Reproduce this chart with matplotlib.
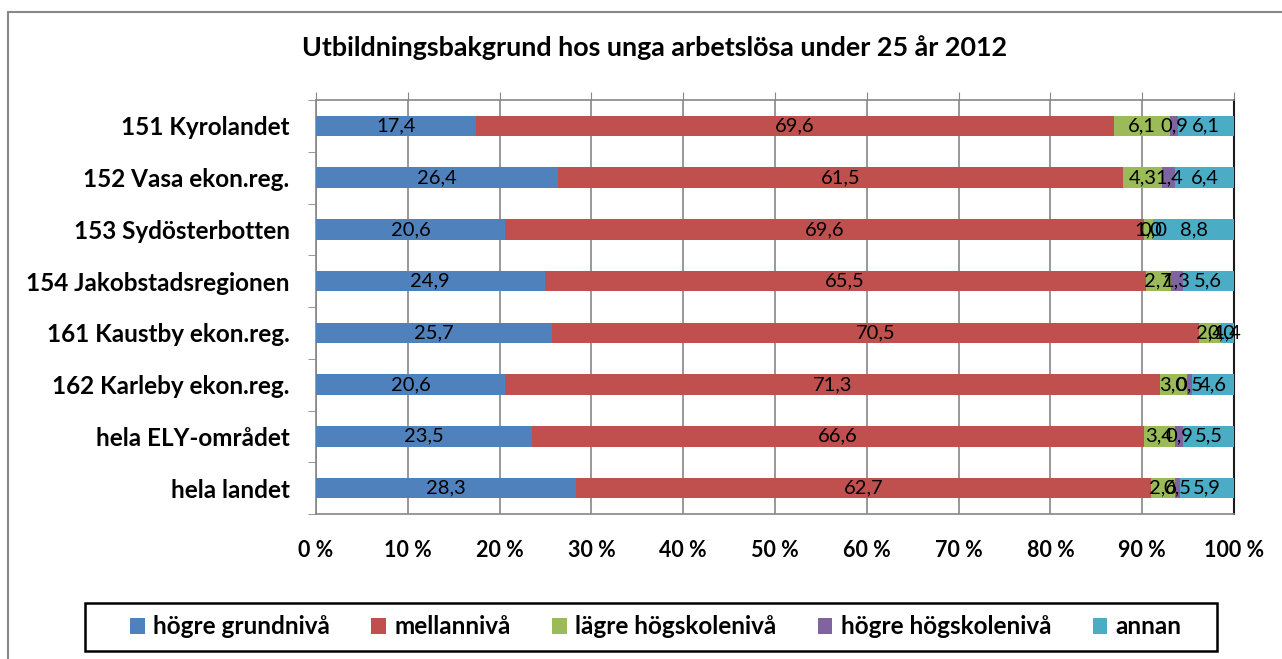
import numpy as np
import matplotlib.pyplot as plt
from matplotlib.patches import Rectangle

plt.rcParams['font.family'] = ['Lato', 'DejaVu Sans']

# data
regions = ["151 Kyrolandet", "152 Vasa ekon.reg.", "153 Sydösterbotten",
           "154 Jakobstadsregionen", "161 Kaustby ekon.reg.", "162 Karleby ekon.reg.",
           "hela ELY-området", "hela landet"]
series = ["högre grundnivå", "mellannivå", "lägre högskolenivå", "högre högskolenivå", "annan"]
hogre_grund = [17.4, 26.4, 20.6, 24.9, 25.7, 20.6, 23.5, 28.3]
mellan = [69.6, 61.5, 69.6, 65.5, 70.5, 71.3, 66.6, 62.7]
lagre_hogsk = [6.1, 4.3, 1.0, 2.7, 2.4, 3.0, 3.4, 2.6]
hogre_hogsk = [0.9, 1.4, 0.0, 1.3, 0.0, 0.5, 0.9, 0.5]
annan = [6.1, 6.4, 8.8, 5.6, 1.4, 4.6, 5.5, 5.9]
colors = ["#4F81BD", "#C0504D", "#9BBB59", "#8064A2", "#4BACC6"]

data = np.array([hogre_grund, mellan, lagre_hogsk, hogre_hogsk, annan])
totals = data.sum(axis=0)
shares = data / totals * 100

W, H = 1282, 659
fig = plt.figure(figsize=(W/100, H/100), dpi=100)
ax = fig.add_axes([316/W, 1-514/H, (1234-316)/W, (514-100)/H])

y = np.arange(len(regions))
left = np.zeros(len(regions))
for i in range(len(series)):
    ax.barh(y, shares[i], left=left, height=0.4, color=colors[i], label=series[i], zorder=3)
    for j in range(len(regions)):
        ax.text(left[j] + shares[i][j]/2, y[j], f"{data[i][j]:.1f}".replace(".", ","),
                ha="center", va="center", fontsize=14.5, color="black", zorder=4)
    left += shares[i]

ax.set_xlim(0, 100)
ax.set_ylim(len(regions) - 0.5, -0.5)
ax.set_xticks(np.arange(0, 101, 10))
ax.set_xticklabels([f"{v} %" for v in range(0, 101, 10)], fontweight="bold", fontsize=15.5)
ax.set_yticks(y)
ax.set_yticklabels(regions, fontweight="bold", fontsize=17.5)
ax.set_yticks(np.arange(-0.5, len(regions)), minor=True)
ax.tick_params(axis="y", which="major", length=0, pad=19)
ax.tick_params(axis="y", which="minor", length=6, color="#868686", direction="out")
ax.tick_params(axis="x", top=True, bottom=False, labeltop=False, labelbottom=True,
               length=6, color="#868686", pad=13)
ax.grid(axis="x", color="#868686", linewidth=1.2, zorder=0)
for s in ["left", "top", "bottom"]:
    ax.spines[s].set_color("#868686")
    ax.spines[s].set_linewidth(1.2)
ax.spines["right"].set_color("#1a1a1a")
ax.spines["right"].set_linewidth(1.5)

fig.text(655/W, 1-48/H, "Utbildningsbakgrund hos unga arbetslösa under 25 år 2012",
         ha="center", va="center", fontsize=19.4, fontweight="bold")

fig.legend(loc="center", bbox_to_anchor=(656/W, 1-627/H), ncol=5, frameon=False,
           prop={"weight": "bold", "size": 17.5}, handlelength=0.6, handleheight=0.6,
           columnspacing=1.7, handletextpad=0.35)

fig.patches.append(Rectangle((85/W, 1-651/H), (1217-85)/W, 48/H, transform=fig.transFigure,
                             fill=False, edgecolor="black", linewidth=1.8))
fig.patches.append(Rectangle((8/W, -0.1), 1.1, 1-12/H + 0.1, transform=fig.transFigure,
                             fill=False, edgecolor="#888888", linewidth=1.5))

fig.savefig("out.png", dpi=100)
